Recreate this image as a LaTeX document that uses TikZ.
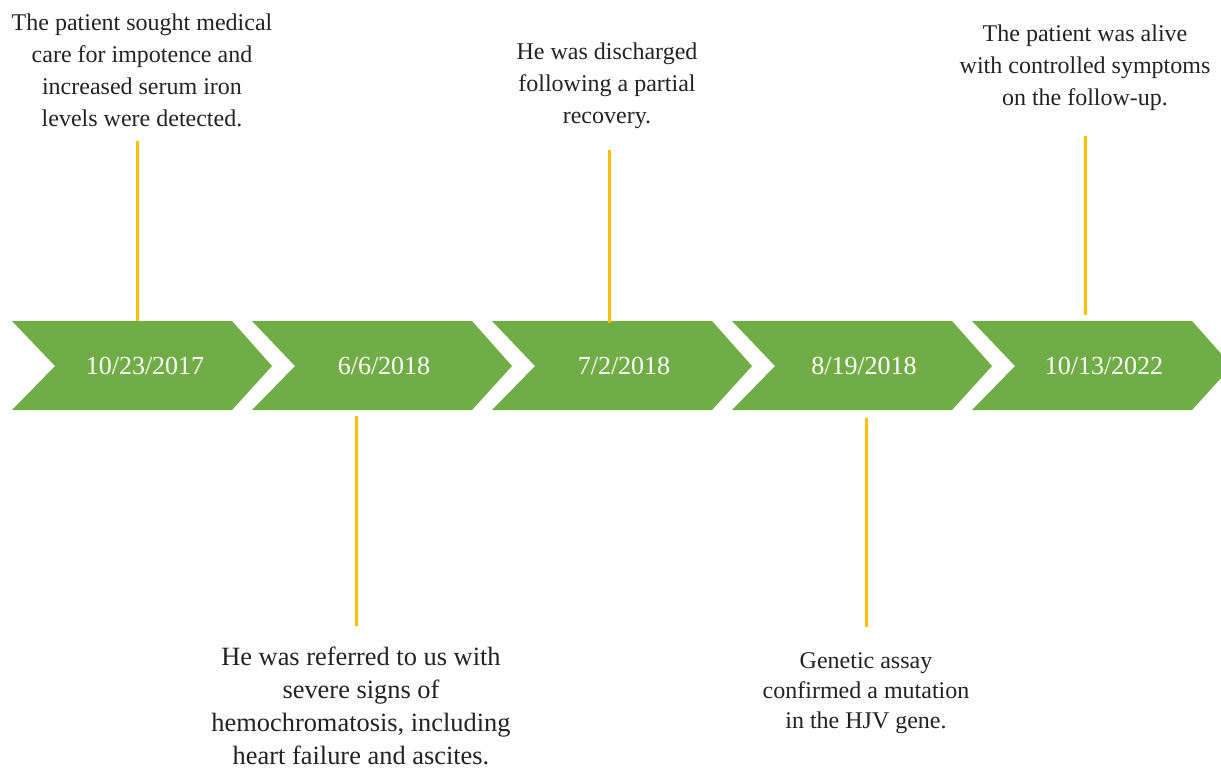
\documentclass[tikz,border=0pt]{standalone}
\usepackage{fontspec}
\setmainfont{LiberationSerif}[Extension=.ttf,UprightFont=*-Regular,BoldFont=*-Bold,ItalicFont=*-Italic]
\definecolor{chevgreen}{HTML}{70AD47}
\definecolor{lineyellow}{HTML}{FFC000}
\definecolor{txtgray}{HTML}{222222}
\begin{document}
\begin{tikzpicture}[x=1pt,y=-1pt,
  chev/.style={fill=chevgreen,draw=none},
  datelbl/.style={text=white,font=\fontsize{26}{30}\selectfont,inner sep=0pt},
  toptxt/.style={align=center,text=txtgray,font=\fontsize{24}{32}\selectfont,inner sep=0pt},
  bottxt/.style={align=center,text=txtgray,font=\fontsize{24}{30}\selectfont,inner sep=0pt},
  bigtxt/.style={align=center,text=txtgray,font=\fontsize{26.4}{33}\selectfont,inner sep=0pt},
  stem/.style={draw=lineyellow,line width=3pt}]
\useasboundingbox (0,0) rectangle (1221,769);
\clip (0,0) rectangle (1221,769);
% chevrons
\foreach \x in {12,252,492,732,972}{
  \fill[chev] (\x,321) -- (\x+220,321) -- (\x+260,366) -- (\x+220,410) -- (\x,410) -- (\x+43,366) -- cycle;
}
% dates
\node[datelbl] (d1) at (145,366) {10/23/2017};
\node[datelbl] (d2) at (384,366) {6/6/2018};
\node[datelbl] (d3) at (624,366) {7/2/2018};
\node[datelbl] (d4) at (864,366) {8/19/2018};
\node[datelbl] (d5) at (1104,366) {10/13/2022};
% texts
\node[toptxt] (t1) at (142,70) {The patient sought medical\\care for impotence and\\increased serum iron\\levels were detected.};
\node[toptxt] (t3) at (607,86) {He was discharged\\following a partial\\recovery.};
\node[toptxt] (t5) at (1085,68) {The patient was alive\\with controlled symptoms\\on the follow-up.};
\node[bigtxt] (t2) at (361,706) {He was referred to us with\\severe signs of\\hemochromatosis, including\\heart failure and ascites.};
\node[bottxt] (t4) at (866,693) {Genetic assay\\confirmed a mutation\\in the HJV gene.};
% stems
\coordinate (s1a) at (137,141); \coordinate (s1b) at (137,321);
\coordinate (s2a) at (356,416); \coordinate (s2b) at (356,626);
\coordinate (s3a) at (609,150); \coordinate (s3b) at (609,323);
\coordinate (s4a) at (866,418); \coordinate (s4b) at (866,627);
\coordinate (s5a) at (1085,136); \coordinate (s5b) at (1085,315);
\draw[stem] (s1a) -- (s1b);
\draw[stem] (s2a) -- (s2b);
\draw[stem] (s3a) -- (s3b);
\draw[stem] (s4a) -- (s4b);
\draw[stem] (s5a) -- (s5b);
\end{tikzpicture}
\end{document}
